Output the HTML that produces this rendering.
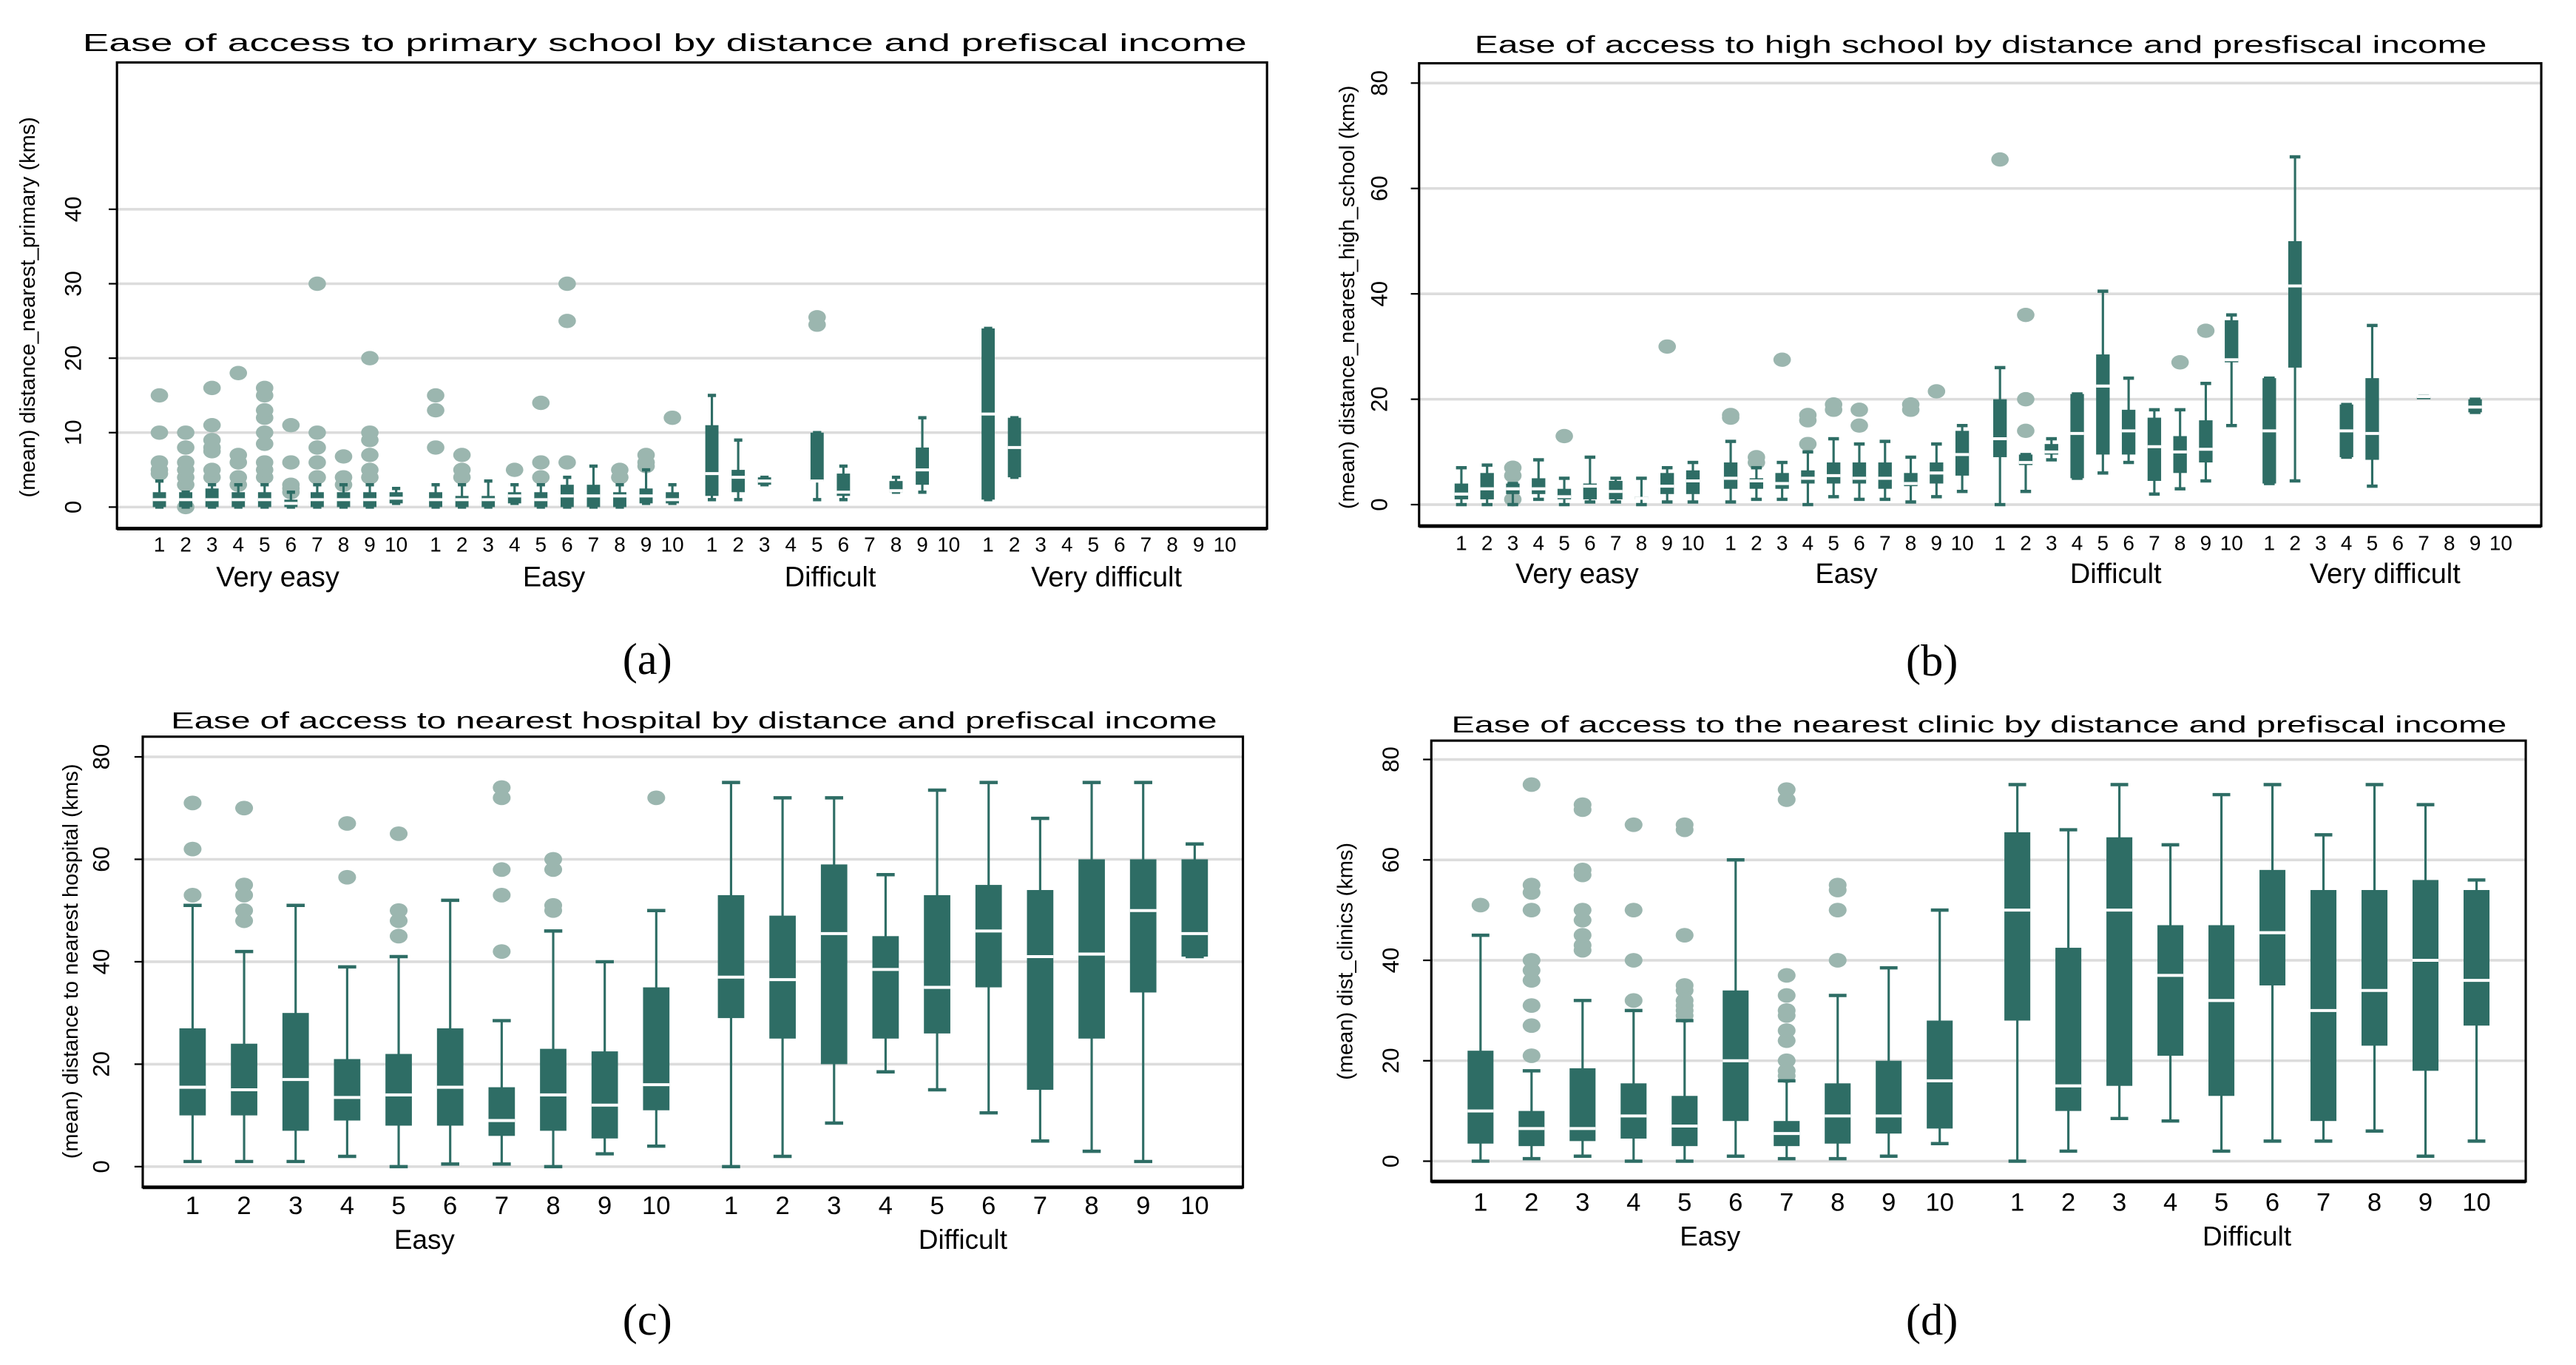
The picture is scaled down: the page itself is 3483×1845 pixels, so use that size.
<!DOCTYPE html>
<html><head><meta charset="utf-8"><style>
html,body{margin:0;padding:0;background:#fff}
svg{display:block}
text{font-family:"Liberation Sans",sans-serif;fill:#000}
.pl{font-family:"Liberation Serif",serif}
</style></head><body>
<svg id="fig" width="3483" height="1845" viewBox="0 0 1560 826.4" xmlns="http://www.w3.org/2000/svg"></svg>
<script>
// ---------- Panel A: primary school (4 groups x 10 income deciles) ----------
const groupsA = ["Very easy","Easy","Difficult","Very difficult"];
const catsA = ["1","2","3","4","5","6","7","8","9","10"];
const loA  = [0,0,0,0,0,0,0,0,0,0.5, 0,0,0,0.5,0,0,0,0,0.5,0.5, 1,1,3,null,1,1,null,2,2,null, 1,4,null,null,null,null,null,null,null,null];
const q1A  = [0,0,0,0,0,0,0,0,0,0.5, 0,0,0,0.5,0,0,0,0,0.5,0.5, 1.5,2,3,null,3.5,1.5,null,2,3,null, 1,4,null,null,null,null,null,null,null,null];
const medA = [1,1,1,1,1,0.5,1,1,1,1.2, 1,1,1,1.5,1,1.5,1.5,1.5,1.5,1, 4.5,4,3.5,null,3.5,2,null,2.2,5,null, 12.5,8,null,null,null,null,null,null,null,null];
const q3A  = [2,2,2.5,2,2,1,2,2,2,2, 2,1.5,1.5,2,2,3,3,2,2.5,2, 11,5,4,null,10,4.5,null,3.5,8,null, 24,12,null,null,null,null,null,null,null,null];
const hiA  = [3.5,2,3,3,3,2,3,3,3,2.5, 3,3,3.5,3,3,4,5.5,3,5,3, 15,9,4,null,10,5.5,null,4,12,null, 24,12,null,null,null,null,null,null,null,null];
const outA = [[4.5,5,6,10,15],[0,3,4,5,6,8,10],[4,5,7.5,8,9,11,16],[3,4,6,7,18],[4,5,6,8.5,10,12,13,15,16],[2,2.5,3,6,11],[4,6,8,10,30],[3,4,6.8],[4,5,7,9,10,20],[],
 [8,13,15],[4,5,7],[],[5],[4,6,14],[6,25,30],[],[4,5],[5.5,6,7],[12],
 [],[],[],[],[24.5,25.5],[],[],[],[],[],
 [],[],[],[],[],[],[],[],[],[]];
const ticksA = [0,10,20,30,40];

// ---------- Panel B: high school ----------
const groupsB = ["Very easy","Easy","Difficult","Very difficult"];
const catsB = ["1","2","3","4","5","6","7","8","9","10"];
const loB  = [0,0,0,1,0,0.5,0.5,0,0.5,0.5, 0.5,1,1,0,1.5,1,1,0.5,1.5,2.5, 0,2.5,8.5,5,6,8,2,3,4.5,15, 4,4.5,null,9,3.5,null,20.5,null,17.5,null];
const q1B  = [1,1,2,2,1,1,1,1,2,2, 3,3,3,4,4,4,3,3.5,4,5.5, 9,7.5,9.5,5,9.5,9.5,4.5,6,8,27, 4,26,null,9,8.5,null,20.5,null,17.5,null];
const medB = [2,3,3,3,1.5,3.5,2.5,1.2,3.5,4.5, 5,4.5,4,5,5.5,5,5,4,6,9.5, 12.5,8,10,13.5,22.5,14,11,10,10.5,27.5, 14,41.5,null,14,13.5,null,20.5,null,18.5,null];
const q3B  = [4,6,4,5,3,4,4.5,1.5,6,6.5, 8,5,6,6.5,8,8,8,6,8,14, 20,9.5,11.5,21,28.5,18,16.5,13,16,35, 24,50,null,19,24,null,20.5,null,20,null];
const hiB  = [7,7.5,4,8.5,5,9,5,5,7,8, 12,7,8,10,12.5,11.5,12,9,11.5,15, 26,9.5,12.5,21,40.5,24,18,18,23,36, 24,66,null,19,34,null,20.5,null,20,null];
const outB = [[],[],[1,5.5,7],[],[13],[],[],[],[30],[],
 [16.5,17],[8,9],[27.5],[11.5,16,17],[18,19],[15,18],[],[18,19],[21.5],[],
 [65.5],[14,20,36],[],[],[],[],[],[27],[33],[],
 [],[],[],[],[],[],[],[],[],[]];
const ticksB = [0,20,40,60,80];

// ---------- Panel C: hospital ----------
const groupsC = ["Easy","Difficult"];
const catsC = ["1","2","3","4","5","6","7","8","9","10"];
const loC  = [1,1,1,2,0,0.5,0.5,0,2.5,4, 0,2,8.5,18.5,15,10.5,5,3,1,41];
const q1C  = [10,10,7,9,8,8,6,7,5.5,11, 29,25,20,25,26,35,15,25,34,41];
const medC = [15.5,15,17,13.5,14,15.5,9,14,12,16, 37,36.5,45.5,38.5,35,46,41,41.5,50,45.5];
const q3C  = [27,24,30,21,22,27,15.5,23,22.5,35, 53,49,59,45,53,55,54,60,60,60];
const hiC  = [51,42,51,39,41,52,28.5,46,40,50, 75,72,72,57,73.5,75,68,75,75,63];
const outC = [[53,62,71],[48,50,53,55,70],[],[56.5,67],[45,48,50,65],[],[42,53,58,72,74],[50,51,58,60],[],[72],
 [],[],[],[],[],[],[],[],[],[]];
const ticksC = [0,20,40,60,80];

// ---------- Panel D: clinic ----------
const groupsD = ["Easy","Difficult"];
const catsD = ["1","2","3","4","5","6","7","8","9","10"];
const loD  = [0,0.5,1,0,0,1,0.5,0.5,1,3.5, 0,2,8.5,8,2,4,4,6,1,4];
const q1D  = [3.5,3,4,4.5,3,8,3,3.5,5.5,6.5, 28,10,15,21,13,35,8,23,18,27];
const medD = [10,6.5,6.5,9,7,20,5.5,9,9,16, 50,15,50,37,32,45.5,30,34,40,36];
const q3D  = [22,10,18.5,15.5,13,34,8,15.5,20,28, 65.5,42.5,64.5,47,47,58,54,54,56,54];
const hiD  = [45,18,32,30,28,60,16,33,38.5,50, 75,66,75,63,73,75,65,75,71,56];
const outD = [[51],[21,27,31,36,38,40,50,53.5,55,75],[42,43,45,48,50,57,58,70,71],[32,40,50,67],[29,30,31,32,34,35,45,66,67],[],[17,18,20,24,26,29,30,33,37,72,74],[40,50,54,55],[],[],
 [],[],[],[],[],[],[],[],[],[]];
const ticksD = [0,20,40,60,80];

const NS = "http://www.w3.org/2000/svg";
const fig = document.getElementById('fig');
const DARK = "#2e6d65", LIGHT = "#9bb6af";
function mk(tag, attrs, parent){
  const e = document.createElementNS(NS, tag);
  for (const k in attrs) e.setAttribute(k, attrs[k]);
  (parent || fig).appendChild(e);
  return e;
}

function drawPanel(p){
  const g = mk('g', {});
  
  
  const yS = v => p.y0 - v * p.per;
  const xS = (gi, i) => p.x0 + gi * p.gstep + i * p.istep;
  const [L, T, R, B] = p.frame;
  p.ticks.forEach(t => {
    const gl = mk('line', {x1: L, x2: R, y1: yS(t), y2: yS(t), stroke: "#dcdcdc", "stroke-width": 1.6}, g);
    
    
    const tk = mk('line', {x1: L - 5, x2: L, y1: yS(t), y2: yS(t), stroke: "#000", "stroke-width": 1}, g);
    
    
    const tx = p.tickX, ty = yS(t);
    const lab = mk('text', {x: tx, y: ty, "font-size": p.tickFs, "text-anchor": "middle", transform: `rotate(-90 ${tx} ${ty})`}, g);
    lab.textContent = t;
    
    
  });
  const fr = mk('rect', {x: L, y: T, width: R - L, height: B - T, fill: "none", stroke: "#000", "stroke-width": 1.4}, g);
  
  
  const ax = mk('line', {x1: L, x2: R, y1: B, y2: B, stroke: "#000", "stroke-width": 2.2}, g);
  
  
  const ti = mk('text', {x: p.titleX[0], y: p.titleY, "font-size": p.titleFs, textLength: p.titleX[1] - p.titleX[0], lengthAdjust: "spacingAndGlyphs"}, g);
  ti.textContent = p.title;
  
  
  const yt = mk('text', {x: p.yTitle[0], y: p.yTitle[1], "font-size": p.yTitleFs, "text-anchor": "middle", transform: `rotate(-90 ${p.yTitle[0]} ${p.yTitle[1]})`}, g);
  yt.textContent = p.yLabel;
  
  
  const nC = p.cats.length;
  p.groups.forEach((gn, gi) => {
    const gl = mk('text', {x: xS(gi, (nC - 1) / 2), y: p.groupY, "font-size": p.groupFs, "text-anchor": "middle"}, g);
    gl.textContent = gn;
    
    
    p.cats.forEach((c, i) => {
      const cl = mk('text', {x: xS(gi, i), y: p.catY, "font-size": p.catFs, "text-anchor": "middle"}, g);
      cl.textContent = c;
      
      
      const k = gi * nC + i;
      const cx = xS(gi, i);
      (p.out[k] || []).forEach(v => {
        const o = mk('ellipse', {cx: cx, cy: yS(v), rx: p.dotR, ry: p.dotR * 0.82, fill: LIGHT}, g);
        
        
      });
      if (p.lo[k] === null) return;
      const bw = p.bw, cw = p.cw;
      const wh = mk('line', {x1: cx, x2: cx, y1: yS(p.hi[k]), y2: yS(p.lo[k]), stroke: DARK, "stroke-width": 1.4}, g);
      
      
      [p.hi[k], p.lo[k]].forEach(v => {
        const cap = mk('line', {x1: cx - cw / 2, x2: cx + cw / 2, y1: yS(v), y2: yS(v), stroke: DARK, "stroke-width": 2}, g);
        
        
      });
      const y1 = yS(p.q3[k]), y2 = yS(p.q1[k]);
      const bx = mk('rect', {x: cx - bw / 2, y: y1, width: bw, height: Math.max(y2 - y1, 1.6), fill: DARK}, g);
      
      
      const md = mk('line', {x1: cx - bw / 2, x2: cx + bw / 2, y1: yS(p.med[k]), y2: yS(p.med[k]), stroke: "#fff", "stroke-width": 1.8}, g);
      
      
    });
  });
  const pl = mk('text', {x: p.plX, y: p.plY, "font-size": 27, "text-anchor": "middle", "class": "pl"}, g);
  pl.textContent = p.panelLabel;
  
  
}

drawPanel({name: 'panel-a-primary', frame: [70.8, 37.8, 767.3, 320], y0: 307, per: 4.5075, x0: 96.5, gstep: 167.3, istep: 15.93,
  bw: 8, cw: 5, dotR: 5.3, ticks: ticksA, tickX: 49, tickFs: 14,
  title: "Ease of access to primary school by distance and prefiscal income", titleX: [50, 755], titleY: 31, titleFs: 15,
  yLabel: "(mean) distance_nearest_primary (kms)", yTitle: [21, 186], yTitleFs: 13,
  groups: groupsA, cats: catsA, lo: loA, q1: q1A, med: medA, q3: q3A, hi: hiA, out: outA,
  catY: 334, catFs: 12.5, groupY: 355, groupFs: 17, panelLabel: "(a)", plX: 392, plY: 408});
drawPanel({name: 'panel-b-high-school', frame: [859.4, 38.3, 1539, 318.5], y0: 305.5, per: 3.19, x0: 885, gstep: 163.1, istep: 15.58,
  bw: 8.2, cw: 6.5, dotR: 5.3, ticks: ticksB, tickX: 840, tickFs: 14,
  title: "Ease of access to high school by distance and presfiscal income", titleX: [893, 1506], titleY: 32, titleFs: 15,
  yLabel: "(mean) distance_nearest_high_school (kms)", yTitle: [820, 180], yTitleFs: 13,
  groups: groupsB, cats: catsB, lo: loB, q1: q1B, med: medB, q3: q3B, hi: hiB, out: outB,
  catY: 333, catFs: 12.5, groupY: 353, groupFs: 17, panelLabel: "(b)", plX: 1170, plY: 409});
drawPanel({name: 'panel-c-hospital', frame: [86.4, 446, 752.7, 718.8], y0: 706.3, per: 3.101, x0: 116.6, gstep: 326.1, istep: 31.2,
  bw: 16, cw: 11, dotR: 5.4, ticks: ticksC, tickX: 66, tickFs: 14,
  title: "Ease of access to nearest hospital by distance and prefiscal income", titleX: [103.5, 737], titleY: 441, titleFs: 14,
  yLabel: "(mean) distance to nearest hospital (kms)", yTitle: [47, 582], yTitleFs: 13,
  groups: groupsC, cats: catsC, lo: loC, q1: q1C, med: medC, q3: q3C, hi: hiC, out: outC,
  catY: 735, catFs: 15.5, groupY: 756, groupFs: 16.5, panelLabel: "(c)", plX: 392, plY: 808});
drawPanel({name: 'panel-d-clinic', frame: [866.8, 448.4, 1529.6, 715.3], y0: 703, per: 3.04, x0: 896.6, gstep: 325.1, istep: 30.9,
  bw: 15.7, cw: 10.7, dotR: 5.4, ticks: ticksD, tickX: 847, tickFs: 14,
  title: "Ease of access to the nearest clinic by distance and prefiscal income", titleX: [879, 1518], titleY: 443.5, titleFs: 14,
  yLabel: "(mean) dist_clinics (kms)", yTitle: [819, 582], yTitleFs: 13,
  groups: groupsD, cats: catsD, lo: loD, q1: q1D, med: medD, q3: q3D, hi: hiD, out: outD,
  catY: 733, catFs: 15.5, groupY: 754, groupFs: 16.5, panelLabel: "(d)", plX: 1170, plY: 808});
</script>
</body></html>
